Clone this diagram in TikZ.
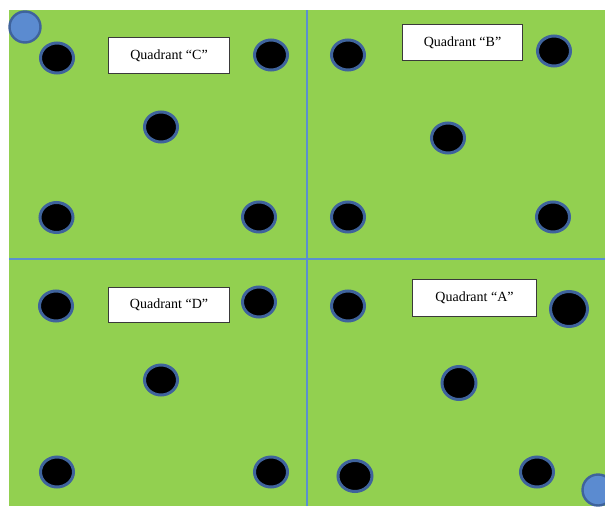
\documentclass[tikz,border=0pt]{standalone}
\usepackage{fontspec}
\usetikzlibrary{shapes.geometric}
\setmainfont{Liberation Serif}
\definecolor{grn}{HTML}{92D050}
\definecolor{ln}{HTML}{5B8FD0}
\definecolor{rim}{HTML}{3F639C}
\definecolor{bfill}{HTML}{5B8BD0}
\definecolor{bxline}{HTML}{3A3A3A}
\tikzset{
  hole/.style={ellipse, fill=black, draw=rim, line width=3pt, minimum width=33pt, minimum height=30pt, inner sep=0pt},
  ball/.style={circle, fill=bfill, draw=rim, line width=2.4pt, minimum size=31pt, inner sep=0pt},
  label/.style={draw=bxline, fill=white, line width=1.1pt, font=\fontsize{14}{16}\selectfont, inner sep=0pt, anchor=north west},
  divider/.style={draw=ln, line width=1.6pt}
}
\begin{document}
\begin{tikzpicture}[x=1pt,y=-1pt]
\useasboundingbox (0,0) rectangle (605,506);
\fill[white] (0,0) rectangle (605,506);
\fill[grn] (9,10) rectangle (605,506);
\coordinate (vt) at (307,10);
\coordinate (vb) at (307,506);
\coordinate (hl) at (9,259);
\coordinate (hr) at (605,259);
\draw[divider] (vt) -- (vb);
\draw[divider] (hl) -- (hr);
% quadrant C
\node[hole] (c1) at (57,58) {};
\node[hole] (c2) at (271,55) {};
\node[hole] (c3) at (161,127) {};
\node[hole] (c4) at (56.5,217.5) {};
\node[hole] (c5) at (259,217) {};
% quadrant B
\node[hole] (b1) at (348,55) {};
\node[hole] (b2) at (554,51) {};
\node[hole] (b3) at (448,138) {};
\node[hole] (b4) at (348,217) {};
\node[hole] (b5) at (553,217) {};
% quadrant D
\node[hole] (d1) at (56,306) {};
\node[hole] (d2) at (259,302) {};
\node[hole] (d3) at (161,380) {};
\node[hole] (d4) at (57,472) {};
\node[hole] (d5) at (271,472) {};
% quadrant A
\node[hole] (a1) at (348,306) {};
\node[hole, minimum width=37pt, minimum height=35pt] (a2) at (569,309) {};
\node[hole, minimum width=34pt, minimum height=33pt] (a3) at (459,383) {};
\node[hole, minimum width=34pt, minimum height=31pt] (a4) at (355,476) {};
\node[hole] (a5) at (537,472) {};
% balls
\node[ball] (ball1) at (25,27) {};
\node[ball] (ball2) at (598,490) {};
% labels
\node[label, minimum width=121pt, minimum height=36pt] (lc) at (108,37) {Quadrant “C”};
\node[label, minimum width=120pt, minimum height=36pt] (lb) at (402,24) {Quadrant “B”};
\node[label, minimum width=121pt, minimum height=35pt] (ld) at (108,287) {Quadrant “D”};
\node[label, minimum width=124pt, minimum height=37pt] (la) at (412,279) {Quadrant “A”};
\end{tikzpicture}
\end{document}
